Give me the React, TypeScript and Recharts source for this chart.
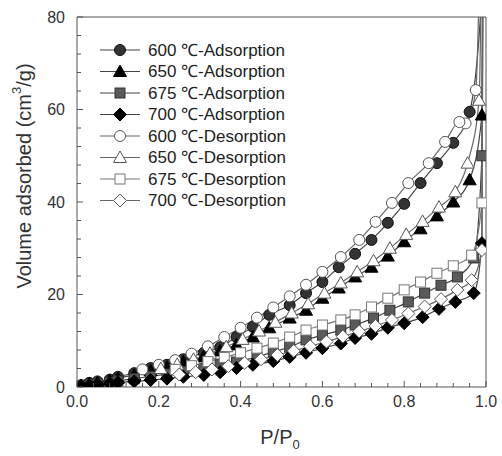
import React from "react";
import { LineChart, Line, XAxis, YAxis, ReferenceLine } from "recharts";

// Relative pressure (P/P0) and volume adsorbed (cm3/g).
const P_600A = [0.01, 0.03, 0.05, 0.08, 0.1, 0.14, 0.18, 0.22, 0.26, 0.31, 0.35, 0.39, 0.43, 0.47, 0.52, 0.56, 0.6, 0.64, 0.68, 0.72, 0.76, 0.8, 0.84, 0.88, 0.92, 0.96, 0.99, 0.995];
const V_600A = [0.4, 0.9, 1.2, 1.6, 2.2, 3.0, 4.1, 4.8, 6.0, 7.4, 8.6, 10.8, 13.0, 15.6, 17.7, 20.3, 22.7, 25.9, 28.8, 31.8, 35.5, 39.6, 44.1, 48.4, 52.8, 59.5, 86, 150];

const P_650A = [0.01, 0.03, 0.05, 0.08, 0.1, 0.14, 0.18, 0.22, 0.26, 0.31, 0.35, 0.39, 0.43, 0.47, 0.52, 0.56, 0.6, 0.64, 0.68, 0.72, 0.76, 0.8, 0.84, 0.88, 0.92, 0.96, 0.99, 0.995];
const V_650A = [0.3, 0.7, 1.0, 1.4, 1.9, 2.6, 3.5, 4.3, 5.4, 6.6, 7.8, 9.1, 10.8, 12.8, 14.9, 16.6, 19.2, 21.4, 23.8, 25.9, 28.3, 31.4, 34.2, 37.0, 40.0, 44.8, 58.8, 150];

const P_675A = [0.01, 0.03, 0.05, 0.08, 0.1, 0.14, 0.18, 0.22, 0.26, 0.31, 0.35, 0.39, 0.44, 0.48, 0.52, 0.56, 0.6, 0.645, 0.68, 0.725, 0.765, 0.81, 0.85, 0.89, 0.93, 0.97, 0.99, 0.995];
const V_675A = [0.2, 0.5, 0.7, 1.0, 1.3, 1.8, 2.3, 2.8, 3.4, 4.1, 4.8, 5.4, 6.5, 7.6, 8.6, 10.2, 11.2, 12.3, 13.4, 14.9, 16.6, 18.4, 20.3, 22.0, 23.8, 27.9, 50, 150];

const P_700A = [0.01, 0.03, 0.05, 0.08, 0.1, 0.14, 0.18, 0.22, 0.26, 0.31, 0.35, 0.39, 0.43, 0.48, 0.52, 0.56, 0.6, 0.645, 0.68, 0.72, 0.76, 0.8, 0.845, 0.885, 0.925, 0.97, 0.99, 0.995];
const V_700A = [0.2, 0.4, 0.6, 0.8, 1.0, 1.2, 1.5, 1.8, 2.2, 2.6, 3.2, 4.1, 4.8, 5.6, 6.5, 7.4, 8.4, 9.4, 10.6, 11.5, 12.8, 13.8, 15.1, 16.9, 18.4, 20.3, 31.1, 150];

const P_600D = [0.995, 0.975, 0.95, 0.935, 0.9, 0.86, 0.81, 0.77, 0.73, 0.69, 0.645, 0.6, 0.56, 0.52, 0.48, 0.44, 0.4, 0.36, 0.32, 0.28, 0.24, 0.2, 0.16];
const V_600D = [150, 64.2, 57.0, 57.3, 53.0, 48.4, 44.1, 39.8, 35.7, 31.8, 28.1, 24.9, 22.1, 19.6, 17.2, 15.0, 12.8, 10.8, 8.8, 7.2, 5.8, 4.8, 3.8];

const P_650D = [0.995, 0.983, 0.955, 0.925, 0.885, 0.845, 0.805, 0.765, 0.725, 0.685, 0.645, 0.605, 0.565, 0.525, 0.485, 0.445, 0.405, 0.365, 0.325, 0.285, 0.245, 0.205];
const V_650D = [150, 62.0, 48.4, 42.2, 38.9, 35.8, 33.0, 30.0, 27.3, 24.9, 22.5, 20.3, 18.0, 16.0, 14.0, 12.1, 10.3, 8.7, 7.3, 6.0, 4.9, 4.0];

const P_675D = [0.995, 0.99, 0.965, 0.92, 0.88, 0.84, 0.8, 0.76, 0.72, 0.68, 0.645, 0.6, 0.56, 0.52, 0.48, 0.44, 0.4, 0.36, 0.32, 0.28, 0.24];
const V_675D = [150, 39.8, 28.5, 26.2, 24.6, 22.7, 21.0, 19.2, 17.3, 15.6, 14.5, 13.4, 12.3, 10.8, 9.5, 8.4, 7.4, 6.4, 5.5, 4.6, 3.8];

const P_700D = [0.995, 0.99, 0.965, 0.93, 0.89, 0.85, 0.81, 0.77, 0.73, 0.69, 0.65, 0.61, 0.57, 0.53, 0.49, 0.45, 0.41, 0.37, 0.33, 0.29, 0.25];
const V_700D = [150, 29.6, 23.1, 21.0, 19.0, 17.4, 15.9, 14.5, 13.2, 12.0, 10.9, 9.8, 8.8, 7.8, 6.9, 6.0, 5.2, 4.5, 3.8, 3.2, 2.7];

const X_TICKS = [0, 0.04, 0.08, 0.12, 0.16, 0.2, 0.24, 0.28, 0.32, 0.36, 0.4, 0.44, 0.48, 0.52, 0.56, 0.6, 0.64, 0.68, 0.72, 0.76, 0.8, 0.84, 0.88, 0.92, 0.96, 1];
const Y_TICKS = [0, 4, 8, 12, 16, 20, 24, 28, 32, 36, 40, 44, 48, 52, 56, 60, 64, 68, 72, 76, 80];

const rows = (p: number[], v: number[]) => p.map((x, i) => ({ p: x, v: v[i] }));

type Shape = "circle" | "triangle" | "square" | "diamond";

const SERIES: { name: string; data: { p: number; v: number }[]; shape: Shape; fill: string; stroke: string; line: string }[] = [
  { name: "600 ℃-Adsorption", data: rows(P_600A, V_600A), shape: "circle", fill: "#333", stroke: "#111", line: "#444" },
  { name: "650 ℃-Adsorption", data: rows(P_650A, V_650A), shape: "triangle", fill: "#000", stroke: "#000", line: "#444" },
  { name: "675 ℃-Adsorption", data: rows(P_675A, V_675A), shape: "square", fill: "#5a5a5a", stroke: "#333", line: "#444" },
  { name: "700 ℃-Adsorption", data: rows(P_700A, V_700A), shape: "diamond", fill: "#000", stroke: "#000", line: "#444" },
  { name: "600 ℃-Desorption", data: rows(P_600D, V_600D), shape: "circle", fill: "#fff", stroke: "#555", line: "#666" },
  { name: "650 ℃-Desorption", data: rows(P_650D, V_650D), shape: "triangle", fill: "#fff", stroke: "#555", line: "#666" },
  { name: "675 ℃-Desorption", data: rows(P_675D, V_675D), shape: "square", fill: "#fff", stroke: "#777", line: "#777" },
  { name: "700 ℃-Desorption", data: rows(P_700D, V_700D), shape: "diamond", fill: "#fff", stroke: "#555", line: "#666" },
];

const FONT = "'Liberation Sans', Arial, sans-serif";
const AXIS = "#555";

function Marker({ cx, cy, shape, fill, stroke }: { cx: number; cy: number; shape: Shape; fill: string; stroke: string }) {
  if (cx == null || cy == null) return null;
  const common = { fill, stroke, strokeWidth: 1 };
  if (shape === "circle") return <circle cx={cx} cy={cy} r={5.5} {...common} />;
  if (shape === "square") return <rect x={cx - 5} y={cy - 5} width={10} height={10} {...common} />;
  if (shape === "triangle")
    return <polygon points={`${cx},${cy - 6.5} ${cx + 6.5},${cy + 5} ${cx - 6.5},${cy + 5}`} {...common} />;
  return <polygon points={`${cx},${cy - 6.5} ${cx + 6.5},${cy} ${cx},${cy + 6.5} ${cx - 6.5},${cy}`} {...common} />;
}

function XTick({ x, y, payload }: any) {
  const v = payload.value;
  const major = Math.abs(v * 5 - Math.round(v * 5)) < 1e-6;
  const top = y - 8;
  return (
    <g>
      <line x1={x} x2={x} y1={top} y2={top - (major ? 6 : 4)} stroke={AXIS} />
      {major && (
        <text x={x} y={y + 12} textAnchor="middle" fontSize={16} fill="#333" fontFamily={FONT}>
          {v.toFixed(1)}
        </text>
      )}
    </g>
  );
}

function YTick({ x, y, payload }: any) {
  const v = payload.value;
  const major = v % 20 === 0;
  const ax = x + 8;
  return (
    <g>
      <line x1={ax} x2={ax + (major ? 6 : 4)} y1={y} y2={y} stroke={AXIS} />
      {major && (
        <text x={x - 4} y={y} textAnchor="end" dominantBaseline="central" fontSize={16} fill="#333" fontFamily={FONT}>
          {v}
        </text>
      )}
    </g>
  );
}

export default function App() {
  return (
    <div style={{ position: "absolute", left: 0, top: 0, width: 502, height: 456, background: "#fff" }}>
      <LineChart width={502} height={456} margin={{ top: 17, right: 16, bottom: 0, left: 0 }}>
        <XAxis
          type="number"
          dataKey="p"
          domain={[0, 1]}
          ticks={X_TICKS}
          allowDataOverflow
          interval={0}
          height={69}
          tickSize={0}
          tickMargin={8}
          tick={<XTick />}
          stroke={AXIS}
        />
        <YAxis
          type="number"
          domain={[0, 80]}
          ticks={Y_TICKS}
          allowDataOverflow
          interval={0}
          width={77}
          tickSize={0}
          tickMargin={8}
          tick={<YTick />}
          stroke={AXIS}
        />
        <ReferenceLine x={1} stroke={AXIS} />
        <ReferenceLine y={80} stroke={AXIS} />
        {SERIES.map((s) => (
          <Line
            key={s.name}
            data={s.data}
            dataKey="v"
            name={s.name}
            type="monotone"
            stroke={s.line}
            strokeWidth={1.2}
            isAnimationActive={false}
            dot={(props: any) => (
              <Marker key={`${s.name}-${props.index}`} cx={props.cx} cy={props.cy} shape={s.shape} fill={s.fill} stroke={s.stroke} />
            )}
          />
        ))}
      </LineChart>

      {/* axis titles and legend drawn on top of the chart */}
      <svg width={502} height={456} style={{ position: "absolute", left: 0, top: 0, pointerEvents: "none" }}>
        <text x={280} y={444} textAnchor="middle" fontSize={20} fill="#333" fontFamily={FONT}>
          P/P<tspan fontSize={13} dy={5}>0</tspan>
        </text>
        <text
          x={24}
          y={176}
          transform="rotate(-90 24 176)"
          textAnchor="middle"
          dominantBaseline="central"
          fontSize={20}
          fill="#333"
          fontFamily={FONT}
        >
          Volume adsorbed (cm<tspan fontSize={13} dy={-8}>3</tspan>
          <tspan dy={8}>/g)</tspan>
        </text>
        {SERIES.map((s, i) => {
          const y = 50 + i * 21.5;
          return (
            <g key={s.name}>
              <line x1={100} x2={140} y1={y} y2={y} stroke={s.line} strokeWidth={1.2} />
              <Marker cx={120} cy={y} shape={s.shape} fill={s.fill} stroke={s.stroke} />
              <text x={148} y={y} dominantBaseline="central" fontSize={17} fill="#222" fontFamily={FONT}>
                {s.name}
              </text>
            </g>
          );
        })}
      </svg>
    </div>
  );
}
